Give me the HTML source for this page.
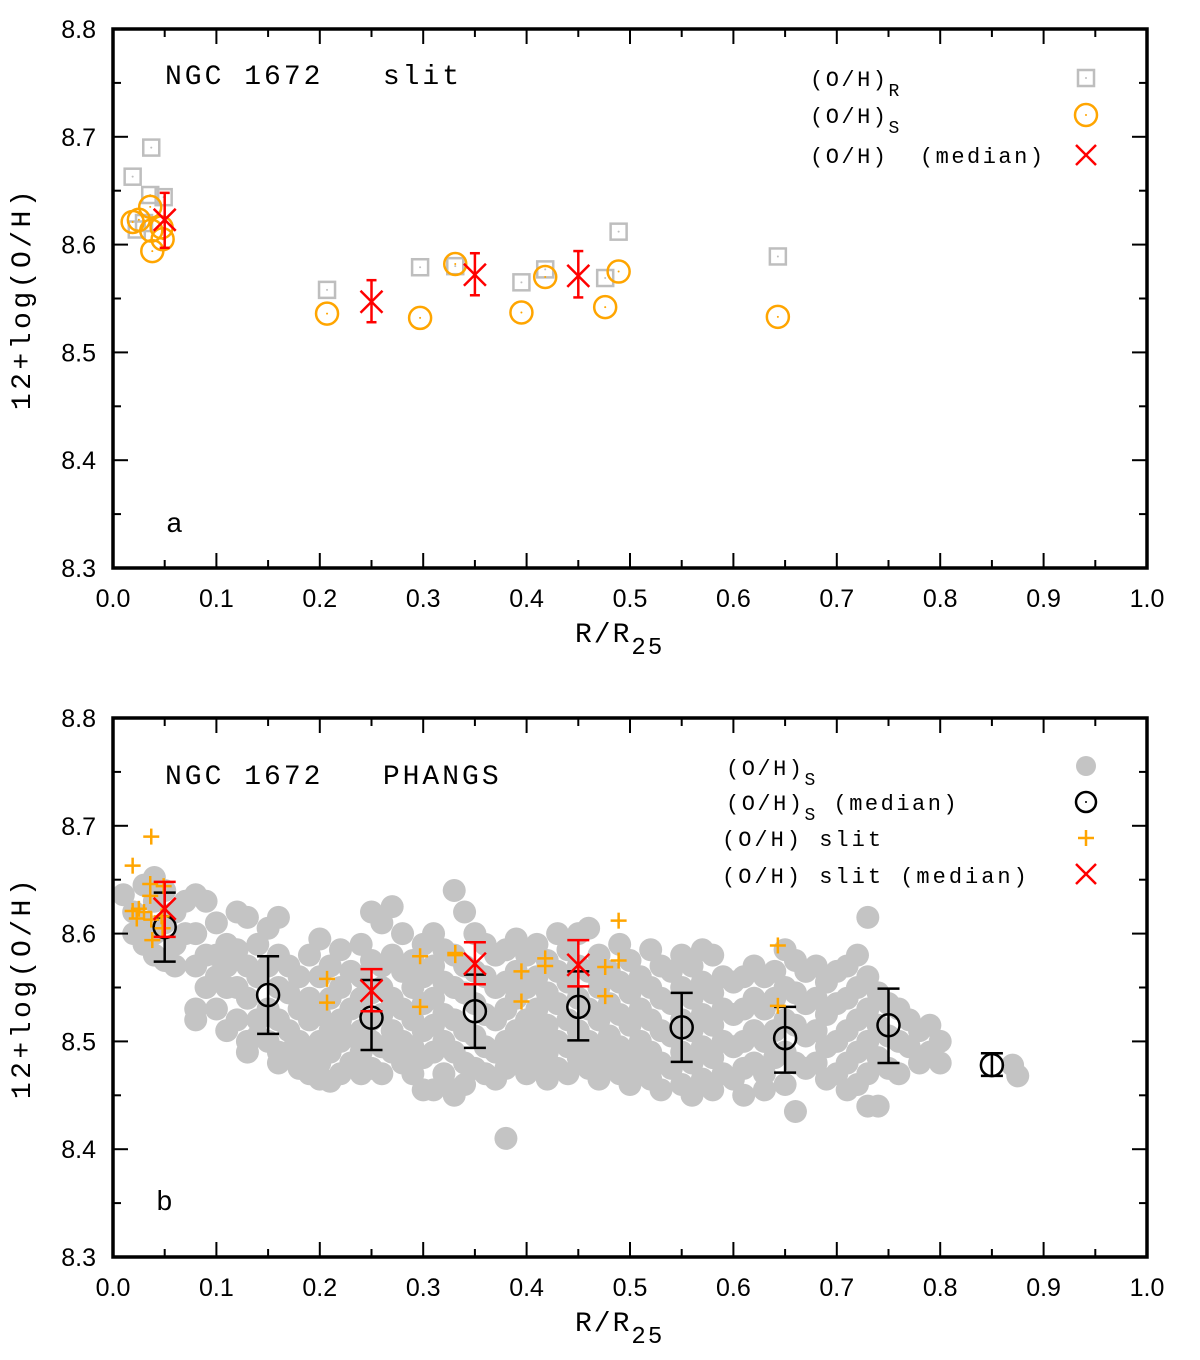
<!DOCTYPE html>
<html><head><meta charset="utf-8"><style>
html,body{margin:0;padding:0;background:#fff;}
svg{display:block;}
.tick{font-family:"Liberation Sans",sans-serif;font-size:25px;fill:#000;}
.mono{font-family:"Liberation Mono",monospace;fill:#000;white-space:pre;}
</style></head><body>
<svg id="chart" width="1200" height="1360" viewBox="0 0 1200 1360" xmlns="http://www.w3.org/2000/svg"></svg>
<script>
// ---- data ----
const xTicks = [0.0,0.1,0.2,0.3,0.4,0.5,0.6,0.7,0.8,0.9,1.0];
const xTickLabels = ["0.0","0.1","0.2","0.3","0.4","0.5","0.6","0.7","0.8","0.9","1.0"];
const yTicks = [8.3,8.4,8.5,8.6,8.7,8.8];
const yTickLabels = ["8.3","8.4","8.5","8.6","8.7","8.8"];

const ohR_x = [0.019,0.037,0.036,0.049,0.023,0.030,0.207,0.297,0.331,0.395,0.418,0.476,0.489,0.643];
const ohR_y = [8.663,8.690,8.646,8.644,8.614,8.620,8.558,8.579,8.580,8.565,8.577,8.569,8.612,8.589];
const ohS_x = [0.019,0.025,0.036,0.037,0.038,0.047,0.048,0.207,0.297,0.331,0.395,0.418,0.476,0.489,0.643];
const ohS_y = [8.621,8.623,8.635,8.613,8.594,8.616,8.605,8.536,8.532,8.582,8.537,8.570,8.542,8.575,8.533];

const slitMed_x = [0.05,0.25,0.35,0.45];
const slitMed_y = [8.623,8.547,8.572,8.571];
const slitMed_lo = [8.597,8.528,8.553,8.551];
const slitMed_hi = [8.648,8.567,8.592,8.594];

const phMed_x = [0.05,0.15,0.25,0.35,0.45,0.55,0.65,0.75,0.85];
const phMed_y = [8.606,8.543,8.522,8.528,8.532,8.513,8.503,8.515,8.478];
const phMed_lo = [8.574,8.507,8.492,8.494,8.501,8.481,8.471,8.480,8.468];
const phMed_hi = [8.638,8.579,8.557,8.562,8.565,8.545,8.532,8.549,8.489];

const cloudX = [0.01,0.02,0.03,0.04,0.05,0.06,0.07,0.08,0.09,0.10,0.11,0.12,0.13,0.14,0.15,0.16,0.17,0.18,0.19,0.20,
0.21,0.22,0.23,0.24,0.25,0.26,0.27,0.28,0.29,0.30,0.31,0.32,0.33,0.34,0.35,0.36,0.37,0.38,0.39,0.40,
0.41,0.42,0.43,0.44,0.45,0.46,0.47,0.48,0.49,0.50,0.51,0.52,0.53,0.54,0.55,0.56,0.57,0.58,0.59,0.60,
0.61,0.62,0.63,0.64,0.65,0.66,0.67,0.68,0.69,0.70,0.71,0.72,0.73,0.74,0.75,0.76,0.77,0.78,0.79,0.80,0.87,0.875];
const cloudY = [
[8.636],[8.62,8.60],[8.645,8.61,8.59],[8.652,8.63,8.60,8.58],[8.64,8.61,8.575],[8.62,8.59,8.57],[8.63,8.60],
[8.636,8.60,8.57,8.53,8.52],[8.63,8.58,8.55],[8.61,8.58,8.56,8.53],[8.59,8.57,8.55,8.51],[8.62,8.585,8.55,8.52],
[8.615,8.57,8.54,8.50,8.49],[8.59,8.56,8.52,8.505],[8.605,8.57,8.53,8.50],[8.615,8.58,8.55,8.52,8.49,8.48],
[8.57,8.545,8.51,8.49],[8.56,8.53,8.50,8.475],[8.58,8.54,8.52,8.49,8.47],[8.595,8.56,8.525,8.50,8.48,8.465],
[8.57,8.54,8.51,8.49,8.463],[8.585,8.55,8.52,8.50,8.47],[8.565,8.53,8.505,8.48],[8.59,8.56,8.54,8.51,8.49,8.47],
[8.62,8.575,8.545,8.52,8.50,8.475],[8.61,8.57,8.55,8.525,8.495,8.47],[8.625,8.58,8.54,8.51,8.49],[8.60,8.565,8.53,8.50,8.48],
[8.575,8.55,8.52,8.495,8.47],[8.59,8.56,8.535,8.51,8.485,8.455],[8.60,8.57,8.54,8.515,8.49,8.455],[8.585,8.555,8.525,8.50,8.47],
[8.64,8.58,8.55,8.52,8.49,8.455,8.45],[8.62,8.57,8.545,8.51,8.48,8.46],[8.60,8.565,8.535,8.505,8.475],[8.59,8.56,8.525,8.495,8.47],
[8.58,8.55,8.52,8.49,8.465],[8.585,8.555,8.53,8.50,8.475,8.41],[8.595,8.565,8.54,8.51,8.485],[8.58,8.55,8.52,8.495,8.47],
[8.59,8.56,8.53,8.505,8.48],[8.575,8.545,8.515,8.49,8.465],[8.60,8.565,8.535,8.50,8.475],[8.585,8.555,8.52,8.495,8.47],
[8.60,8.57,8.54,8.51,8.485],[8.605,8.565,8.53,8.50,8.475],[8.58,8.55,8.52,8.49,8.465],[8.565,8.535,8.505,8.48],
[8.59,8.555,8.525,8.495,8.47],[8.575,8.545,8.515,8.485,8.46],[8.56,8.53,8.50,8.475],[8.585,8.55,8.52,8.49,8.465],
[8.57,8.54,8.51,8.48,8.455],[8.565,8.535,8.505,8.475],[8.58,8.55,8.52,8.49,8.46],[8.57,8.54,8.51,8.48,8.45],
[8.585,8.555,8.525,8.495,8.465],[8.58,8.545,8.515,8.485,8.455],[8.56,8.53,8.50,8.47],[8.555,8.525,8.495,8.465],
[8.56,8.53,8.50,8.475,8.45],[8.57,8.54,8.51,8.48],[8.56,8.53,8.50,8.47,8.455],[8.565,8.54,8.51,8.485],
[8.585,8.55,8.52,8.49,8.46],[8.575,8.545,8.515,8.48,8.435],[8.565,8.535,8.505,8.475],[8.57,8.54,8.51,8.48],
[8.555,8.525,8.495,8.465],[8.565,8.535,8.50,8.47],[8.57,8.54,8.51,8.48,8.455],[8.58,8.55,8.52,8.49,8.46],
[8.615,8.56,8.53,8.50,8.47,8.44],[8.545,8.515,8.485,8.44],[8.535,8.505,8.475],[8.53,8.50,8.47],[8.52,8.495],
[8.51,8.48],[8.515,8.49],[8.50,8.48],[8.478],[8.468]];

// ---- helpers ----
const NS = "http://www.w3.org/2000/svg";
const svg = document.getElementById('chart');
function mk(tag, attrs, parent){ const e=document.createElementNS(NS,tag); for(const k in attrs) e.setAttribute(k,attrs[k]); (parent||svg).appendChild(e); return e; }

const X0=113, X1=1147;
function panel(top, bottom){
  return { sx: v => X0 + v*(X1-X0), sy: v => bottom - (v-8.3)/0.5*(bottom-top), top, bottom };
}
const pa = panel(29,568), pb = panel(718,1257);

function axes(p, name, g){
  for(let i=0;i<=20;i++){
    const v=i*0.05, x=p.sx(v), len=(i%2===0)?15:8;
    const t1=mk('line',{x1:x,y1:p.bottom,x2:x,y2:p.bottom-len,stroke:'#000','stroke-width':2},g);
     
    const t2=mk('line',{x1:x,y1:p.top,x2:x,y2:p.top+len,stroke:'#000','stroke-width':2},g);
     
  }
  for(let i=0;i<=10;i++){
    const v=8.3+i*0.05, y=p.sy(v), len=(i%2===0)?15:8;
    const t1=mk('line',{x1:X0,y1:y,x2:X0+len,y2:y,stroke:'#000','stroke-width':2},g);
     
    const t2=mk('line',{x1:X1,y1:y,x2:X1-len,y2:y,stroke:'#000','stroke-width':2},g);
     
  }
  xTicks.forEach((v,i)=>{
    const t=mk('text',{x:p.sx(v),y:p.bottom+39,'text-anchor':'middle',class:'tick'},g);
    t.textContent=xTickLabels[i];
     
  });
  yTicks.forEach((v,i)=>{
    const t=mk('text',{x:96,y:p.sy(v)+9,'text-anchor':'end',class:'tick'},g);
    t.textContent=yTickLabels[i];
     
  });
  const fr=mk('rect',{x:X0,y:p.top,width:X1-X0,height:p.bottom-p.top,fill:'none',stroke:'#000','stroke-width':3.5},g);
   
  const xt=mk('text',{x:575,y:p.bottom+74,class:'mono','font-size':28,'letter-spacing':2},g);
  xt.innerHTML='R/R<tspan font-size="24" dy="12">25</tspan>';
   
  const cy=(p.top+p.bottom)/2;
  const yt=mk('text',{x:30,y:cy,class:'mono','font-size':28,'letter-spacing':3.5,'text-anchor':'middle',transform:`rotate(-90 30 ${cy})`},g);
  yt.textContent='12+log(O/H)';
   
}

function square(x,y,col,g){ mk('rect',{x:x-8,y:y-8,width:16,height:16,fill:'none',stroke:col,'stroke-width':2.5},g); mk('circle',{cx:x,cy:y,r:1,fill:col},g); }
function ocirc(x,y,col,g,r){ mk('circle',{cx:x,cy:y,r:r||11,fill:'none',stroke:col,'stroke-width':2.5},g); mk('circle',{cx:x,cy:y,r:1,fill:col},g); }
function cross(x,y,col,g,s){ s=s||11; mk('line',{x1:x-s,y1:y-s,x2:x+s,y2:y+s,stroke:col,'stroke-width':2.5},g); mk('line',{x1:x-s,y1:y+s,x2:x+s,y2:y-s,stroke:col,'stroke-width':2.5},g); }
function plus(x,y,col,g){ mk('line',{x1:x-8,y1:y,x2:x+8,y2:y,stroke:col,'stroke-width':2.5},g); mk('line',{x1:x,y1:y-8,x2:x,y2:y+8,stroke:col,'stroke-width':2.5},g); }
function errbar(x,ylo,yhi,col,g,cap){ cap=cap||9; mk('line',{x1:x,y1:ylo,x2:x,y2:yhi,stroke:col,'stroke-width':2.5},g); mk('line',{x1:x-cap,y1:ylo,x2:x+cap,y2:ylo,stroke:col,'stroke-width':2.5},g); mk('line',{x1:x-cap,y1:yhi,x2:x+cap,y2:yhi,stroke:col,'stroke-width':2.5},g); }

const ORANGE='#ffa500', GRAY='#c4c4c4', RED='#ff0000';

// ===== Panel a =====
const ga=mk('g',{});  
const gaR=mk('g',{},ga);  
ohR_x.forEach((v,i)=>square(pa.sx(v),pa.sy(ohR_y[i]),'#bebebe',gaR));
const gaS=mk('g',{},ga);  
ohS_x.forEach((v,i)=>ocirc(pa.sx(v),pa.sy(ohS_y[i]),ORANGE,gaS));
const gaM=mk('g',{},ga);  
slitMed_x.forEach((v,i)=>{ errbar(pa.sx(v),pa.sy(slitMed_lo[i]),pa.sy(slitMed_hi[i]),RED,gaM,5); cross(pa.sx(v),pa.sy(slitMed_y[i]),RED,gaM); });
axes(pa,'a',ga);
{
  const t=mk('text',{x:165,y:84,class:'mono','font-size':28,'letter-spacing':3},ga);
  t.textContent='NGC 1672   slit';
   
  const l=mk('text',{x:166,y:532,class:'mono','font-size':28},ga); l.textContent='a';
   
  const lg=mk('g',{},ga);  
  const e1=mk('text',{x:810,y:86,class:'mono','font-size':22,'letter-spacing':2.5},lg); e1.innerHTML='(O/H)<tspan font-size="18" dy="10">R</tspan>';
   
  square(1086,78,'#bebebe',lg);
  const e2=mk('text',{x:810,y:123,class:'mono','font-size':22,'letter-spacing':2.5},lg); e2.innerHTML='(O/H)<tspan font-size="18" dy="10">S</tspan>';
   
  ocirc(1086,115,ORANGE,lg);
  const e3=mk('text',{x:810,y:163,class:'mono','font-size':22,'letter-spacing':2.5},lg); e3.textContent='(O/H)  (median)';
   
  cross(1086,155,RED,lg,10);
}

// ===== Panel b =====
const gb=mk('g',{});  
const gbC=mk('g',{},gb);  
cloudX.forEach((v,i)=>cloudY[i].forEach(yv=>{ mk('circle',{cx:pb.sx(v),cy:pb.sy(yv),r:11.5,fill:GRAY},gbC); }));
const gbM=mk('g',{},gb);  
phMed_x.forEach((v,i)=>{ errbar(pb.sx(v),pb.sy(phMed_lo[i]),pb.sy(phMed_hi[i]),'#000',gbM,11); ocirc(pb.sx(v),pb.sy(phMed_y[i]),'#000',gbM,11); });
const gbP=mk('g',{},gb);  
ohR_x.forEach((v,i)=>plus(pb.sx(v),pb.sy(ohR_y[i]),ORANGE,gbP));
ohS_x.forEach((v,i)=>plus(pb.sx(v),pb.sy(ohS_y[i]),ORANGE,gbP));
const gbR=mk('g',{},gb);  
slitMed_x.forEach((v,i)=>{ errbar(pb.sx(v),pb.sy(slitMed_lo[i]),pb.sy(slitMed_hi[i]),RED,gbR,11); cross(pb.sx(v),pb.sy(slitMed_y[i]),RED,gbR); });
axes(pb,'b',gb);
{
  const t=mk('text',{x:165,y:784,class:'mono','font-size':28,'letter-spacing':3},gb);
  t.textContent='NGC 1672   PHANGS';
   
  const l=mk('text',{x:156,y:1210,class:'mono','font-size':28},gb); l.textContent='b';
   
  const lg=mk('g',{},gb);  
  const e1=mk('text',{x:726,y:775,class:'mono','font-size':22,'letter-spacing':2.5},lg); e1.innerHTML='(O/H)<tspan font-size="18" dy="10">S</tspan>';
   
  mk('circle',{cx:1086,cy:766,r:10,fill:GRAY},lg);
  const e2=mk('text',{x:726,y:810,class:'mono','font-size':22,'letter-spacing':2.5},lg); e2.innerHTML='(O/H)<tspan font-size="18" dy="10">S</tspan><tspan dy="-10"> (median)</tspan>';
   
  ocirc(1086,802,'#000',lg,10);
  const e3=mk('text',{x:722,y:846,class:'mono','font-size':22,'letter-spacing':3},lg); e3.textContent='(O/H) slit';
   
  plus(1086,838,ORANGE,lg);
  const e4=mk('text',{x:722,y:883,class:'mono','font-size':22,'letter-spacing':3},lg); e4.textContent='(O/H) slit (median)';
   
  cross(1086,874,RED,lg,10);
}
</script>
</body></html>
